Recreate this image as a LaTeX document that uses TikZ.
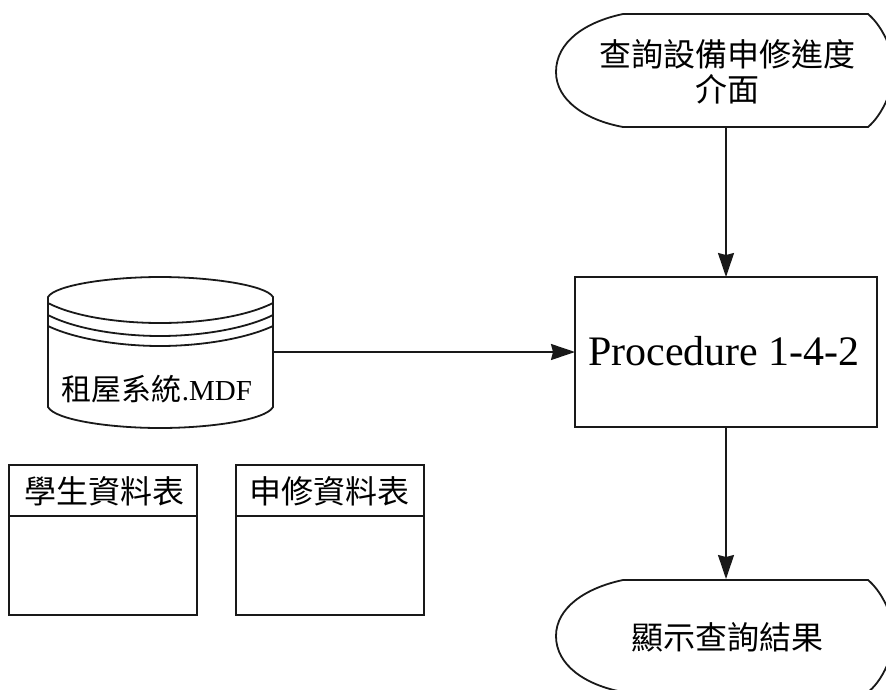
\documentclass[tikz,border=0pt]{standalone}
\usepackage{fontspec}
\setmainfont{Liberation Serif}
\newfontfamily\cjk{Noto Sans CJK TC}
\usetikzlibrary{arrows.meta}
\tikzset{
  ln/.style={draw=black!90,line width=1.8pt},
  arr/.style={ln,-{Stealth[length=24pt,width=16pt,inset=2pt]}},
  lbl/.style={inner sep=0pt,align=center,font=\cjk\fontsize{32}{35}\selectfont},
  box/.style={ln,fill=white,minimum width=188pt,minimum height=150pt,anchor=north west,outer sep=0pt},
}
\begin{document}
\begin{tikzpicture}[x=1pt,y=-1pt]
\useasboundingbox (0,0) rectangle (886,689);
\clip (0,0) rectangle (886,689);
% display shapes
\draw[ln] (623,14) -- (868,14) .. controls (880,24) and (892,45) .. (895,70)
  .. controls (892,95) and (880,117) .. (868,127) -- (623,127)
  .. controls (585,120) and (556,100) .. (556,72) .. controls (556,42) and (585,22) .. (623,14) -- cycle;
\coordinate (dTopB) at (726,127);
\draw[ln] (623,580) -- (868,580) .. controls (880,590) and (892,611) .. (895,636)
  .. controls (892,661) and (880,683) .. (868,692) -- (623,692)
  .. controls (585,685) and (556,665) .. (556,636) .. controls (556,608) and (585,588) .. (623,580) -- cycle;
\coordinate (resT) at (726,579);
\node[lbl] (qtext) at (727,72) {查詢設備申修進度\\介面};
\node[lbl] (rtext) at (727,637) {顯示查詢結果};
% process
\node[ln,minimum width=302pt,minimum height=150pt,anchor=north west,inner sep=0pt,outer sep=0pt] (proc) at (575,277) {};
\node[font=\fontsize{42}{46}\selectfont,inner sep=0pt] (ptext) at (724,351) {Procedure 1-4-2};
% cylinder
\draw[ln] (48,297) .. controls (55,285) and (110,277) .. (160,277) .. controls (210,277) and (266,285) .. (273,297)
  -- (273,407) .. controls (266,420) and (210,428) .. (160,428) .. controls (110,428) and (55,420) .. (48,407) -- cycle;
\draw[ln] (48,303) .. controls (75,317) and (120,323) .. (160,323) .. controls (200,323) and (245,317) .. (273,303);
\draw[ln] (48,315) .. controls (75,329) and (120,336) .. (160,336) .. controls (200,336) and (245,329) .. (273,315);
\draw[ln] (48,326) .. controls (75,339) and (120,346) .. (160,346) .. controls (200,346) and (245,339) .. (273,326);
\coordinate (cylR) at (273,352);
\node[lbl,font=\cjk\fontsize{30}{34}\selectfont] (cyltext) at (157,389) {租屋系統{\rmfamily\fontsize{29}{32}\selectfont .MDF}};
% tables
\node[box] (t1) at (9,465) {};
\draw[ln] (t1.west |- 0,516) -- (t1.east |- 0,516);
\node[lbl] (t1t) at (104,491) {學生資料表};
\node[box] (t2) at (236,465) {};
\draw[ln] (t2.west |- 0,516) -- (t2.east |- 0,516);
\node[lbl] (t2t) at (329,491) {申修資料表};
% connectors
\draw[arr] (dTopB) -- (proc.north);
\draw[arr] (cylR) -- (proc.west);
\draw[arr] (proc.south) -- (resT);
\end{tikzpicture}
\end{document}
